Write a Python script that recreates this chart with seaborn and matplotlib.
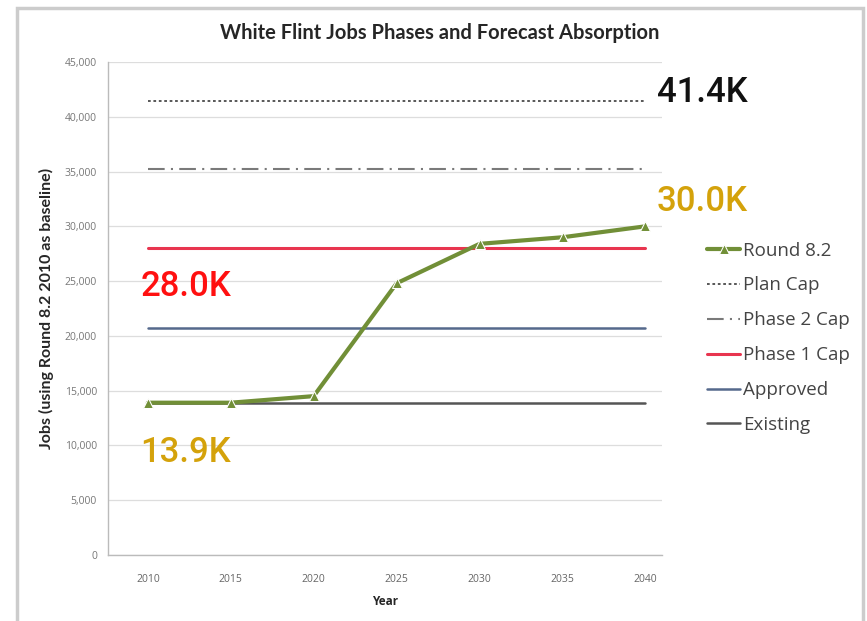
import pandas as pd
import numpy as np
import matplotlib
matplotlib.use('Agg')
import matplotlib.pyplot as plt
import seaborn as sns
from matplotlib.patches import Rectangle

years = [2010, 2015, 2020, 2025, 2030, 2035, 2040]
round_82 = [13900, 13900, 14500, 24800, 28400, 29000, 30000]
plan_cap = 41400
phase2_cap = 35200
phase1_cap = 28000
approved = 20700
existing = 13900

series_names = ['Round 8.2', 'Plan Cap', 'Phase 2 Cap', 'Phase 1 Cap', 'Approved', 'Existing']
series_values = [round_82, [plan_cap] * len(years), [phase2_cap] * len(years),
                 [phase1_cap] * len(years), [approved] * len(years), [existing] * len(years)]

callout_labels = ['41.4K', '30.0K', '28.0K', '13.9K']
callout_values = [plan_cap, round_82[-1], phase1_cap, existing]

rows = []
for name, vals in zip(series_names, series_values):
    for yr, v in zip(years, vals):
        rows.append({'Year': yr, 'Jobs': v, 'Series': name})
df = pd.DataFrame(rows)

sns.set_theme(style='white')
plt.rcParams['font.family'] = ['Open Sans', 'DejaVu Sans']

fig = plt.figure(figsize=(8.67, 6.21), dpi=100)
fig.patch.set_facecolor('white')
ax = fig.add_axes([0.1246, 0.1063, 0.639, 0.7939])

palette = {'Round 8.2': '#718F37', 'Plan Cap': '#4a4a4a', 'Phase 2 Cap': '#7a7a7a',
           'Phase 1 Cap': '#E8354F', 'Approved': '#55698C', 'Existing': '#555555'}
styles = {'Round 8.2': '', 'Plan Cap': (1.5, 1.5), 'Phase 2 Cap': (8, 3, 1, 3),
          'Phase 1 Cap': '', 'Approved': '', 'Existing': ''}
widths = {'Round 8.2': 3.0, 'Plan Cap': 1.3, 'Phase 2 Cap': 1.5,
          'Phase 1 Cap': 2.2, 'Approved': 1.8, 'Existing': 1.8}

for name in series_names[::-1]:
    sub = df[df['Series'] == name]
    sns.lineplot(data=sub, x='Year', y='Jobs', ax=ax, color=palette[name],
                 linewidth=widths[name], label=name,
                 marker='^' if name == 'Round 8.2' else None,
                 markersize=7 if name == 'Round 8.2' else 0,
                 dashes=False)
    if styles[name]:
        ax.lines[-1].set_dashes(styles[name])

ax.set_ylim(0, 45000)
ax.set_xlim(2007.6, 2041.0)
ax.set_yticks(np.arange(0, 45001, 5000))
ax.set_yticklabels([f'{v:,}' for v in range(0, 45001, 5000)], fontsize=7.5, color='#777777')
ax.set_xticks(years)
ax.set_xticklabels([str(y) for y in years], fontsize=7.5, color='#666666')
ax.grid(axis='y', color='#dddddd', linewidth=0.9)
ax.set_axisbelow(True)
for s in ['top', 'right']:
    ax.spines[s].set_visible(False)
for s in ['left', 'bottom']:
    ax.spines[s].set_color('#bbbbbb')
    ax.spines[s].set_linewidth(1.0)
ax.tick_params(axis='y', length=4, color='#bbbbbb', pad=4)
ax.tick_params(axis='x', length=0, pad=14)

ax.set_xlabel('Year', fontsize=8.5, fontweight='bold', labelpad=7)
ax.set_ylabel('Jobs (using Round 8.2 2010 as baseline)', fontsize=11.5, fontweight='bold', labelpad=8,
              family=['Lato', 'DejaVu Sans'])
fig.text(440 / 867, 1 - 33 / 621, 'White Flint Jobs Phases and Forecast Absorption',
         fontsize=14.5, fontweight='bold', ha='center', va='center', family=['Lato', 'DejaVu Sans'])

handles, labels = ax.get_legend_handles_labels()
order = [labels.index(n) for n in series_names]
leg = ax.legend([handles[i] for i in order], [labels[i] for i in order],
                loc='upper left', bbox_to_anchor=(0.8065, 0.623), bbox_transform=fig.transFigure,
                frameon=False, fontsize=13.5, handlelength=1.8, handletextpad=0.15,
                labelspacing=0.9, borderaxespad=0)
for t in leg.get_texts():
    t.set_color('#444444')

# callout labels
callout_font = ['Roboto', 'DejaVu Sans']
ax.text(2040.7, callout_values[0] + 800, callout_labels[0], fontsize=25, fontweight='medium',
        color='#111111', va='center', ha='left', clip_on=False, family=callout_font)
ax.text(2040.7, callout_values[1] + 2300, callout_labels[1], fontsize=25, fontweight='medium',
        color='#D4A20B', va='center', ha='left', clip_on=False, family=callout_font)
ax.text(2009.55, callout_values[2] - 3450, callout_labels[2], fontsize=25, fontweight='medium',
        color='#FF1010', va='center', ha='left', family=callout_font)
ax.text(2009.55, callout_values[3] - 4500, callout_labels[3], fontsize=25, fontweight='medium',
        color='#D4A20B', va='center', ha='left', family=callout_font)

fig.patches.append(Rectangle((0.02, -0.01), 0.975, 0.997, transform=fig.transFigure,
                             fill=False, edgecolor='#cccccc', linewidth=2.5))

fig.savefig('out.png', dpi=100)
